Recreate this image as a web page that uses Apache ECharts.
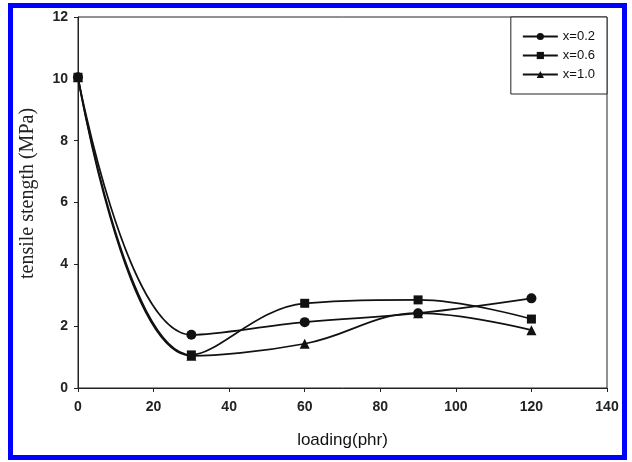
<!DOCTYPE html>
<html>
<head>
<meta charset="utf-8">
<script src="https://cdn.jsdelivr.net/npm/echarts@6/dist/echarts.min.js"></script>
<style>
html,body{margin:0;padding:0;background:#fff;}
#chart{width:632px;height:462px;}
</style>
</head>
<body>
<div id="chart"></div>
<script>
const loading = [0, 30, 60, 90, 120];
const x02 = [10.05, 1.72, 2.13, 2.42, 2.90];
const x06 = [10.05, 1.07, 2.74, 2.85, 2.23];
const x10 = [10.05, 1.04, 1.43, 2.42, 1.87];
const seriesNames = ['x=0.2', 'x=0.6', 'x=1.0'];
const xTicks = [0, 20, 40, 60, 80, 100, 120, 140];
const yTicks = [0, 2, 4, 6, 8, 10, 12];

const pairs = arr => loading.map((x, i) => [x, arr[i]]);
const symbols = ['circle', 'rect', 'triangle'];
const sizes = [10, 9, 10];
const allData = [x02, x06, x10];

const chart = echarts.init(document.getElementById('chart'));
chart.setOption({
  animation: false,
  backgroundColor: '#fff',
  grid: { left: 78, right: 25, top: 17, bottom: 74, show: true, borderColor: '#222', borderWidth: 1 },
  xAxis: {
    type: 'value', min: xTicks[0], max: xTicks[xTicks.length - 1], interval: 20,
    name: 'loading(phr)', nameLocation: 'middle', nameGap: 44,
    nameTextStyle: { fontFamily: 'Liberation Sans', fontSize: 17, color: '#111' },
    axisLine: { lineStyle: { color: '#222', width: 1 } },
    axisTick: { show: true, inside: false, length: 4, lineStyle: { color: '#222' } },
    axisLabel: { fontFamily: 'Liberation Sans', fontSize: 14, fontWeight: 'bold', color: '#222', margin: 12 },
    splitLine: { show: false }
  },
  yAxis: {
    type: 'value', min: yTicks[0], max: yTicks[yTicks.length - 1], interval: 2,
    name: 'tensile stength (MPa)', nameLocation: 'middle', nameGap: 40,
    nameTextStyle: { fontFamily: 'Liberation Serif', fontSize: 20, color: '#222', padding: [0, 0, 0, 18] },
    axisLine: { show: true, lineStyle: { color: '#222', width: 1 } },
    axisTick: { show: true, inside: false, length: 4, lineStyle: { color: '#222' } },
    axisLabel: { fontFamily: 'Liberation Sans', fontSize: 14, fontWeight: 'bold', color: '#222', margin: 10 },
    splitLine: { show: false }
  },
  legend: {
    orient: 'vertical', right: 25, top: 17,
    backgroundColor: '#fff', borderColor: '#222', borderWidth: 1, borderRadius: 0,
    padding: [13, 12, 13, 11], itemGap: 6, itemWidth: 35, itemHeight: 9,
    textStyle: { fontFamily: 'Liberation Sans', fontSize: 13, color: '#111' },
    data: seriesNames
  },
  series: seriesNames.map((n, i) => ({
    name: n, type: 'line', smooth: 0.4,
    data: pairs(allData[i]),
    symbol: symbols[i], symbolSize: sizes[i],
    itemStyle: { color: '#111' },
    lineStyle: { color: '#111', width: 1.7 },
    z: 3 - i
  })),
  graphic: [{
    type: 'rect', silent: true, z: 100,
    shape: { x: 10.5, y: 5.5, width: 614, height: 452 },
    style: { fill: 'none', stroke: '#0000ff', lineWidth: 5 }
  }]
});
</script>
</body>
</html>
